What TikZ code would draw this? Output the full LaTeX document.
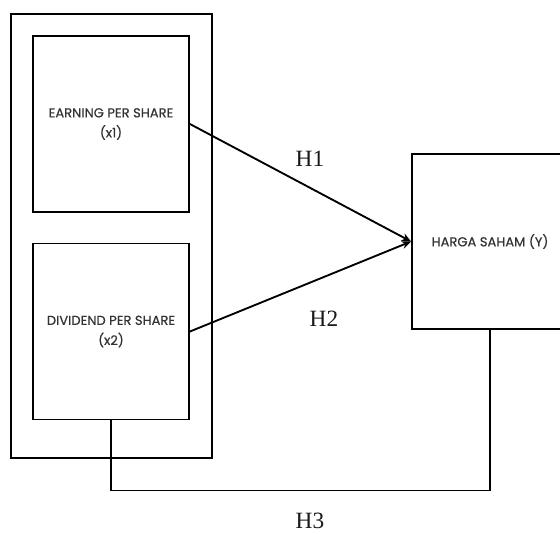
\documentclass[tikz,border=0pt]{standalone}
\usepackage{fontspec}
\usepackage{tikz}
\usetikzlibrary{arrows.meta,positioning}
\newfontfamily\boxfont[FakeBold=0.4]{Poppins}
\newfontfamily\hypfont{Liberation Serif}

\begin{document}
\begin{tikzpicture}[
  x=0.75pt, y=-0.75pt,
  varbox/.style={draw, line width=1.4pt, minimum width=117pt, minimum height=132pt,
                 font=\boxfont\fontsize{9.8}{15}\selectfont, text=black!80, align=center},
  groupbox/.style={draw, line width=1.4pt, minimum width=150.75pt, minimum height=333pt},
  hyp/.style={font=\hypfont\fontsize{17.5}{19}\selectfont, text=black!90},
  link/.style={line width=1.4pt},
]
\clip (0,0) rectangle (560,533);

% Kelompok variabel bebas
\node[groupbox] (grp) at (111.5, 236) {};
\node[varbox] (eps) at (111, 124) {EARNING PER SHARE\\(x1)};
\node[varbox] (dps) at (111, 331.5) {DIVIDEND PER SHARE\\(x2)};

% Variabel terikat
\node[varbox, minimum height=131pt] (hs) at (490, 241.5) {HARGA SAHAM (Y)};

% Hipotesis
\draw[link, -{Stealth[length=7pt,width=6pt]}] (eps.east) -- (hs.west);
\draw[link, -{Stealth[length=7pt,width=6pt]}] (dps.east) -- (hs.west);
\draw[link] (dps.south) -- ++(0, 70) -| (hs.south);

\node[hyp] (h1) at (310, 159) {H1};
\node[hyp] (h2) at (324, 319) {H2};
\node[hyp] (h3) at (310, 521) {H3};
\end{tikzpicture}
\end{document}
